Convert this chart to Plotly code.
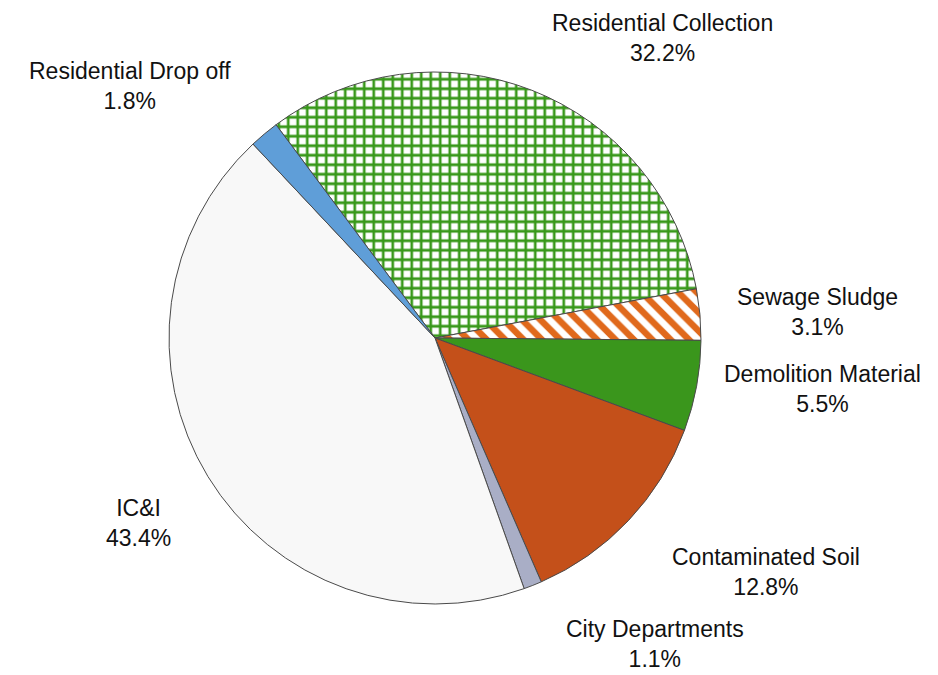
import plotly.graph_objects as go

labels = ["Residential Collection", "Sewage Sludge", "Demolition Material",
          "Contaminated Soil", "City Departments", "IC&I", "Residential Drop off"]
values = [32.2, 3.1, 5.5, 12.8, 1.1, 43.4, 1.8]

# styling (not data)
bg_colors = ["#ffffff", "#ffffff", "#3a961c", "#c4501a", "#a9aec6", "#f8f8f8", "#5f9ed8"]
pat_shapes = ["+", "\\", "", "", "", "", ""]
pat_fg = ["#38981a", "#e0691c", "#3a961c", "#c4501a", "#a9aec6", "#f8f8f8", "#5f9ed8"]
pat_size = [9.5, 13, 8, 8, 8, 8, 8]
pat_solid = [0.48, 0.5, 0.3, 0.3, 0.3, 0.3, 0.3]

W, H = 938, 675
OFF = 8  # page body margin
def px(x):
    return (x - OFF) / W
def py(y):
    return 1 - (y - OFF) / H

# label centre positions in page pixels (layout only)
label_pix = [(662, 38), (817, 312), (822, 389), (766, 572), (655, 644), (138, 523), (130, 86)]

fig = go.Figure(go.Pie(
    labels=labels, values=values, sort=False, direction="clockwise",
    rotation=-36.7, textinfo="none", hoverinfo="label+percent",
    marker=dict(colors=bg_colors, line=dict(color="#4a4a4a", width=1),
                pattern=dict(shape=pat_shapes, fgcolor=pat_fg, size=pat_size,
                             solidity=pat_solid, fillmode="replace")),
    domain=dict(x=[px(169), px(701)], y=[py(604), py(72)]),
    showlegend=False,
))

anns = []
for lab, v, (x, y) in zip(labels, values, label_pix):
    anns.append(dict(x=px(x), y=py(y), xref="paper", yref="paper", showarrow=False,
                     text=f"{lab}<br>{v:.1f}%",
                     font=dict(family="Liberation Sans, Arial", size=23, color="#111111"),
                     align="center", xanchor="center", yanchor="middle"))

fig.update_layout(width=W, height=H, margin=dict(l=0, r=0, t=0, b=0),
                  paper_bgcolor="white", plot_bgcolor="white", annotations=anns)
fig.write_html("out.html")
